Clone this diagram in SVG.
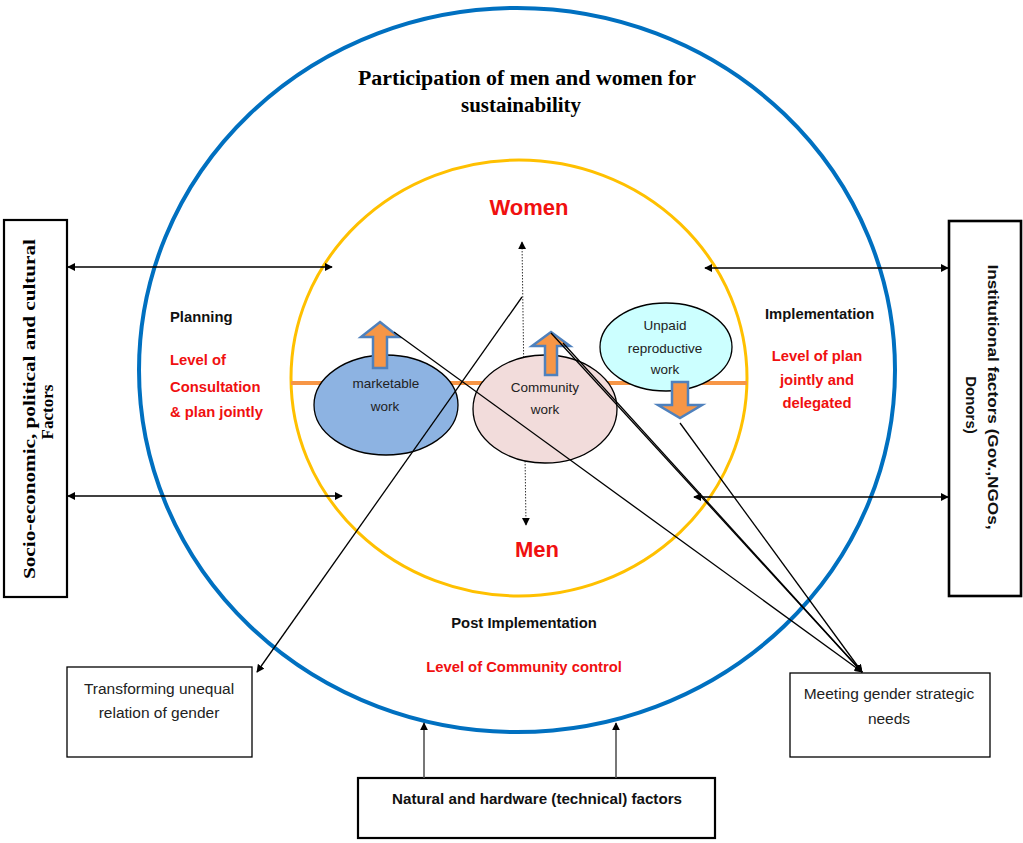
<svg xmlns="http://www.w3.org/2000/svg" width="1023" height="843" viewBox="0 0 1023 843">
<defs>
<marker id="ah" viewBox="0 0 10 10" refX="9" refY="5" markerWidth="8" markerHeight="8" markerUnits="userSpaceOnUse" orient="auto-start-reverse">
<path d="M0,0 L10,5 L0,10 z" fill="#000"/>
</marker>
<style>
.box{fill:#fff;stroke:#000;stroke-width:1.3}
.bbox{fill:#fff;stroke:#000;stroke-width:2.2}
.ln{stroke:#000;stroke-width:1.3;fill:none}
.sans{font-family:"Liberation Sans",Arial,sans-serif}
.serif{font-family:"Liberation Serif","Times New Roman",serif;font-weight:bold}
.hb{font-family:"Liberation Sans",Arial,sans-serif;font-weight:bold;font-size:14.8px;fill:#111}
.red{font-family:"Liberation Sans",Arial,sans-serif;font-weight:bold;font-size:14.8px;fill:#f01010}
.el{font-family:"Liberation Sans",Arial,sans-serif;font-size:13.5px;fill:#222}
.bt{font-family:"Liberation Sans",Arial,sans-serif;font-size:15.5px;fill:#222}
.blk{fill:#F79646;stroke:#4F81BD;stroke-width:2.5;stroke-linejoin:miter}
</style>
</defs>
<rect width="1023" height="843" fill="#fff"/>

<g id="outer-circle">
<ellipse cx="517" cy="370" rx="378" ry="362" fill="none" stroke="#0070C0" stroke-width="4"/>
<text class="serif" font-size="20" x="527" y="85" text-anchor="middle" textLength="338" lengthAdjust="spacingAndGlyphs">Participation of men and women for</text>
<text class="serif" font-size="20" x="521" y="112" text-anchor="middle" textLength="120" lengthAdjust="spacingAndGlyphs">sustainability</text>
</g>

<g id="inner-circle">
<ellipse cx="519" cy="378" rx="228" ry="218" fill="none" stroke="#FFC000" stroke-width="3"/>
<line x1="291" y1="383" x2="747" y2="383" stroke="#F79646" stroke-width="4"/>
<text class="sans" font-weight="bold" font-size="22" fill="#f01010" x="529" y="215" text-anchor="middle">Women</text>
<text class="sans" font-weight="bold" font-size="22" fill="#f01010" x="537" y="557" text-anchor="middle">Men</text>
</g>

<g id="planning">
<text class="hb" x="170" y="322">Planning</text>
<text class="red" x="170" y="365">Level of</text>
<text class="red" x="170" y="392">Consultation</text>
<text class="red" x="170" y="417">&amp; plan jointly</text>
</g>

<g id="implementation">
<text class="hb" x="765" y="319">Implementation</text>
<text class="red" x="817" y="361" text-anchor="middle">Level of plan</text>
<text class="red" x="817" y="385" text-anchor="middle">jointly and</text>
<text class="red" x="817" y="408" text-anchor="middle">delegated</text>
</g>

<g id="post-implementation">
<text class="hb" x="524" y="628" text-anchor="middle">Post Implementation</text>
<text class="red" x="524" y="672" text-anchor="middle">Level of Community control</text>
</g>

<g id="dotted-axis">
<line x1="522" y1="242" x2="526" y2="525" stroke="#333" stroke-width="1" stroke-dasharray="1.5,1.5" marker-start="url(#ah)" marker-end="url(#ah)"/>
</g>

<g id="marketable-work">
<ellipse cx="386" cy="405" rx="72" ry="50" fill="#8DB3E2" stroke="#000" stroke-width="1.3"/>
<text class="el" x="386" y="388" text-anchor="middle">marketable</text>
<text class="el" x="385" y="411" text-anchor="middle">work</text>
</g>

<g id="community-work">
<ellipse cx="545" cy="409" rx="72" ry="54" fill="#F2DCDB" stroke="#000" stroke-width="1.3"/>
<text class="el" x="545" y="392" text-anchor="middle">Community</text>
<text class="el" x="545" y="414" text-anchor="middle">work</text>
</g>

<g id="unpaid-work">
<ellipse cx="666" cy="347" rx="66" ry="44" fill="#CCFFFF" stroke="#000" stroke-width="1.3"/>
<text class="el" x="665" y="330" text-anchor="middle">Unpaid</text>
<text class="el" x="665" y="353" text-anchor="middle">reproductive</text>
<text class="el" x="665" y="374" text-anchor="middle">work</text>
</g>

<g id="block-arrows">
<polygon class="blk" points="380,322 399,337 387,337 387,368 373,368 373,337 361,337"/>
<polygon class="blk" points="551,332 570,346 557,346 557,375 545,375 545,346 532,346"/>
<polygon class="blk" points="672,382 688,382 688,405 702,405 680,418 658,405 672,405"/>
</g>

<g id="socio-economic">
<rect class="bbox" x="4" y="220" width="63" height="377"/>
<text class="serif" font-size="17" transform="translate(35,409) rotate(-90)" text-anchor="middle" textLength="340" lengthAdjust="spacingAndGlyphs">Socio-economic, political and cultural</text>
<text class="serif" font-size="17" transform="translate(53,412) rotate(-90)" text-anchor="middle">Factors</text>
</g>

<g id="institutional">
<rect x="949" y="221" width="72" height="375" fill="#fff" stroke="#000" stroke-width="2.6"/>
<text class="sans" font-weight="bold" font-size="15" fill="#111" transform="translate(988,397) rotate(90)" text-anchor="middle" textLength="265" lengthAdjust="spacingAndGlyphs">Institutional factors (Gov.,NGOs,</text>
<text class="sans" font-weight="bold" font-size="15" fill="#111" transform="translate(966,405) rotate(90)" text-anchor="middle">Donors)</text>
</g>

<g id="transforming">
<rect class="box" x="67" y="667" width="185" height="90"/>
<text class="bt" x="159" y="694" text-anchor="middle">Transforming unequal</text>
<text class="bt" x="159" y="718" text-anchor="middle">relation of gender</text>
</g>

<g id="meeting">
<rect class="box" x="790" y="673" width="200" height="84"/>
<text class="bt" x="889" y="699" text-anchor="middle">Meeting gender strategic</text>
<text class="bt" x="889" y="724" text-anchor="middle">needs</text>
</g>

<g id="natural">
<rect class="bbox" x="358" y="778" width="357" height="60"/>
<text class="hb" x="537" y="804" text-anchor="middle" textLength="290" lengthAdjust="spacingAndGlyphs">Natural and hardware (technical) factors</text>
</g>

<g id="connectors">
<line class="ln" x1="68" y1="267" x2="332" y2="267" marker-start="url(#ah)" marker-end="url(#ah)"/>
<line class="ln" x1="68" y1="496" x2="342" y2="496" marker-start="url(#ah)" marker-end="url(#ah)"/>
<line class="ln" x1="705" y1="268" x2="948" y2="268" marker-start="url(#ah)" marker-end="url(#ah)"/>
<line class="ln" x1="694" y1="497" x2="948" y2="497" marker-start="url(#ah)" marker-end="url(#ah)"/>
<line class="ln" x1="522" y1="297" x2="257" y2="672" marker-end="url(#ah)"/>
<line class="ln" x1="394" y1="332" x2="862" y2="672" marker-end="url(#ah)"/>
<line class="ln" x1="551" y1="333" x2="862" y2="672" marker-end="url(#ah)"/>
<line class="ln" x1="563" y1="343" x2="862" y2="672" marker-end="url(#ah)"/>
<line class="ln" x1="680" y1="423" x2="862" y2="672" marker-end="url(#ah)"/>
<line x1="424" y1="778" x2="424" y2="723" stroke="#555" stroke-width="1.6" marker-end="url(#ah)"/>
<line x1="616" y1="778" x2="616" y2="723" stroke="#555" stroke-width="1.6" marker-end="url(#ah)"/>
</g>
</svg>
